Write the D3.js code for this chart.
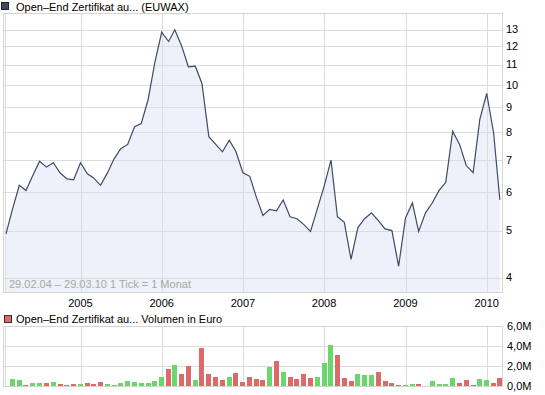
<!DOCTYPE html>
<meta charset="utf-8">
<style>
body{
    margin: 0;
    background: #fff;
    font-family: "Liberation Sans", Arial, sans-serif;
}
svg text{
    font-size: 11px;
    fill: #000;
}
.grid line{
    stroke: #dcdcdc;
    shape-rendering: crispEdges;
}
.frame{
    fill: none;
    stroke: #d4d4d4;
    shape-rendering: crispEdges;
}
.price-area{
    fill: #eef1f9;
}
.price-line{
    fill: none;
    stroke: #3e4967;
    stroke-width: 1.2;
}
.range-note{
    fill: #a8a8a8;
}
</style>
<svg width="545" height="395"></svg>
<script src="https://d3js.org/d3.v7.min.js"></script>
<script>

// monthly closes, Feb 2004 .. Mar 2010
var firstMonth = new Date(2004, 1, 1);
var lastMonth = new Date(2010, 2, 1);
var closes = [
    4.92, 5.53, 6.20, 6.05, 6.50, 6.95, 6.76, 6.90, 6.58, 6.39, 6.36, 6.90,
    6.55, 6.42, 6.20, 6.56, 7.03, 7.38, 7.53, 8.19, 8.31, 9.32, 11.10, 12.84,
    12.28, 12.98, 12.01, 10.89, 10.92, 10.06, 7.81, 7.53, 7.27, 7.68, 7.27, 6.58,
    6.47, 5.89, 5.37, 5.53, 5.49, 5.78, 5.34, 5.29, 5.15, 4.98, 5.53, 6.17,
    6.99, 5.34, 5.20, 4.36, 5.07, 5.29, 5.44, 5.24, 5.04, 5.00, 4.22, 5.31,
    5.70, 4.98, 5.44, 5.70, 6.05, 6.29, 8.02, 7.53, 6.81, 6.58, 8.48, 9.59,
    7.96, 5.79
];
// monthly volume in million euro, Mar 2004 .. Mar 2010
var volumes = [
    0.7, 0.6, 0.1, 0.3, 0.3, 0.3, 0.4, 0.2, 0.1, 0.2, 0.2, 0.3,
    0.2, 0.4, 0.2, 0.1, 0.3, 0.5, 0.4, 0.3, 0.3, 0.5, 0.9, 1.7,
    2.1, 1.2, 2.0, 0.6, 3.8, 1.2, 0.9, 0.6, 0.9, 1.3, 0.4, 0.9,
    0.7, 0.6, 1.9, 2.5, 1.4, 0.9, 0.7, 1.2, 0.8, 0.9, 2.3, 4.1,
    3.1, 0.8, 0.5, 1.2, 1.1, 1.1, 1.4, 0.5, 0.3, 0.1, 0.1, 0.2,
    0.2, 0.0, 0.5, 0.2, 0.2, 0.8, 0.3, 0.6, 0.1, 0.7, 0.6, 0.3,
    0.8
];
var priceTicks = [4, 5, 6, 7, 8, 9, 10, 11, 12, 13];
var volumeTicks = [0, 2, 4, 6];
var years = [2005, 2006, 2007, 2008, 2009, 2010];
var priceTitle = 'Open\u2013End Zertifikat au... (EUWAX)';
var volumeTitle = 'Open\u2013End Zertifikat au... Volumen in Euro';
var rangeNote = '29.02.04 \u2013 29.03.10   1 Tick = 1 Monat';

var colour = {
    up: '#6bd66b',
    down: '#dc6a6a',
    line: '#3e4967'
};

var svg = d3.select('svg');
var left = 3, right = 502;
var priceTop = 13, priceBottom = 292;
var volTop = 326, volBottom = 386;

var months = d3.timeMonth.range(firstMonth, d3.timeMonth.offset(lastMonth, 1));
var prices = months.map(function(m, i){ return {date: m, close: closes[i]}; });
var bars = volumes.map(function(v, i){
    return {
        date: months[i + 1],
        volume: v,
        up: closes[i + 1] >= closes[i]
    };
});

var x = d3.scaleTime()
    .domain([new Date(2005, 0, 1), new Date(2010, 0, 1)])
    .range([80.5, 486.7]);

var y = d3.scaleLog()
    .domain([4, 13])
    .range([277.5, 29.5]);

var yVol = d3.scaleLinear()
    .domain([0, 6])
    .range([volBottom, volTop]);

function px(v){ return Math.round(v) + 0.5; }

// ---- price panel
var pricePanel = svg.append('g').attr('class', 'price');

pricePanel.append('path')
    .datum(prices)
    .attr('class', 'price-area')
    .attr('d', d3.area()
        .x(function(d){ return x(d.date); })
        .y0(priceBottom)
        .y1(function(d){ return y(d.close); }));

var priceGrid = pricePanel.append('g').attr('class', 'grid');
priceGrid.selectAll('line.h')
    .data(priceTicks)
    .enter()
    .append('line')
        .attr('class', 'h')
        .attr('x1', left).attr('x2', right)
        .attr('y1', function(d){ return px(y(d)); })
        .attr('y2', function(d){ return px(y(d)); });
priceGrid.selectAll('line.v')
    .data(years)
    .enter()
    .append('line')
        .attr('class', 'v')
        .attr('x1', function(d){ return px(x(new Date(d, 0, 1))); })
        .attr('x2', function(d){ return px(x(new Date(d, 0, 1))); })
        .attr('y1', priceTop).attr('y2', priceBottom);
priceGrid.append('line')
    .attr('x1', 5.5).attr('x2', 5.5)
    .attr('y1', priceTop).attr('y2', priceBottom);

pricePanel.append('path')
    .datum(prices)
    .attr('class', 'price-line')
    .attr('d', d3.line()
        .x(function(d){ return x(d.date); })
        .y(function(d){ return y(d.close); }));

pricePanel.append('rect')
    .attr('class', 'frame')
    .attr('x', left + 0.5).attr('y', priceTop + 0.5)
    .attr('width', right - left).attr('height', priceBottom - priceTop);

pricePanel.selectAll('text.tick')
    .data(priceTicks)
    .enter()
    .append('text')
        .attr('class', 'tick')
        .attr('x', right + 4)
        .attr('y', function(d){ return y(d); })
        .attr('dy', '0.35em')
        .text(function(d){ return d; });

pricePanel.append('text')
    .attr('class', 'range-note')
    .attr('x', 9).attr('y', 288)
    .text(rangeNote);

svg.selectAll('text.year')
    .data(years)
    .enter()
    .append('text')
        .attr('class', 'year')
        .attr('x', function(d){ return x(new Date(d, 0, 1)); })
        .attr('y', 307)
        .attr('text-anchor', 'middle')
        .text(function(d){ return d; });

// ---- titles
svg.append('rect')
    .attr('x', 1.5).attr('y', 2.5).attr('width', 7).attr('height', 7)
    .attr('fill', colour.line).attr('stroke', '#222');
svg.append('text').attr('x', 16).attr('y', 11).text(priceTitle);

svg.append('rect')
    .attr('x', 4.5).attr('y', 315.5).attr('width', 7).attr('height', 7)
    .attr('fill', colour.down).attr('stroke', '#333');
svg.append('text').attr('x', 16).attr('y', 323).text(volumeTitle);

// ---- volume panel
var volPanel = svg.append('g').attr('class', 'volume');
var volGrid = volPanel.append('g').attr('class', 'grid');
volGrid.selectAll('line.h')
    .data(volumeTicks)
    .enter()
    .append('line')
        .attr('class', 'h')
        .attr('x1', left).attr('x2', right)
        .attr('y1', function(d){ return px(yVol(d)); })
        .attr('y2', function(d){ return px(yVol(d)); });
volGrid.selectAll('line.v')
    .data(years)
    .enter()
    .append('line')
        .attr('class', 'v')
        .attr('x1', function(d){ return px(x(new Date(d, 0, 1))); })
        .attr('x2', function(d){ return px(x(new Date(d, 0, 1))); })
        .attr('y1', volTop).attr('y2', volBottom);
volGrid.append('line')
    .attr('x1', 5.5).attr('x2', 5.5)
    .attr('y1', volTop).attr('y2', volBottom);

volPanel.append('rect')
    .attr('class', 'frame')
    .attr('x', left + 0.5).attr('y', volTop + 0.5)
    .attr('width', right - left).attr('height', volBottom - volTop);

volPanel.selectAll('rect.bar')
    .data(bars)
    .enter()
    .append('rect')
        .attr('class', 'bar')
        .attr('x', function(d){ return Math.round(x(d.date) - 2.5); })
        .attr('width', 5)
        .attr('y', function(d){ return Math.round(yVol(d.volume)); })
        .attr('height', function(d){ return volBottom - Math.round(yVol(d.volume)); })
        .attr('fill', function(d){ return d.up ? colour.up : colour.down; });

volPanel.selectAll('text.tick')
    .data(volumeTicks)
    .enter()
    .append('text')
        .attr('class', 'tick')
        .attr('x', right + 5)
        .attr('y', function(d){ return yVol(d); })
        .attr('dy', '0.35em')
        .text(function(d){ return d.toFixed(1).replace('.', ',') + 'M'; });

</script>
